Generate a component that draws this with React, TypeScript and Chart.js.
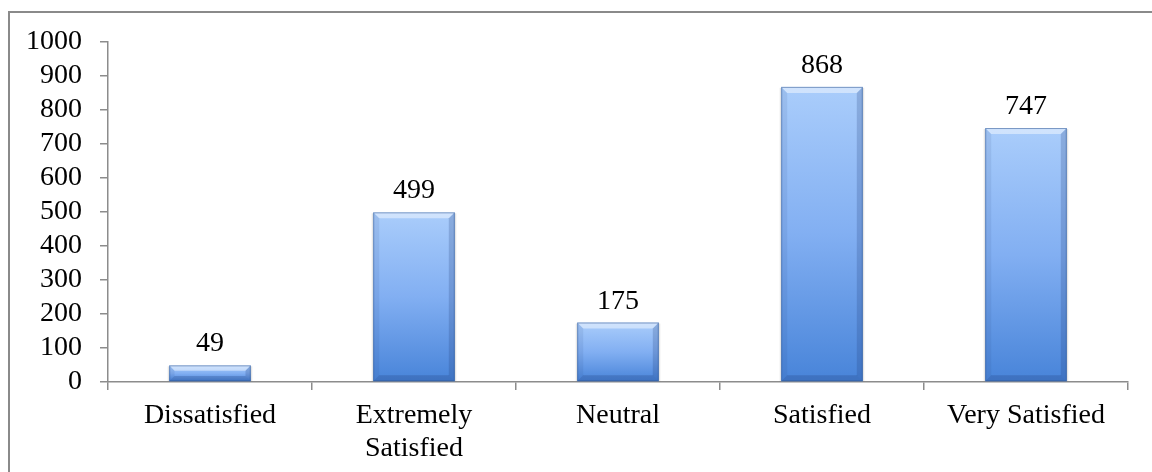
import React, { useEffect, useRef } from "react";
import { Chart, registerables } from "chart.js";

Chart.register(...registerables);

const categories: (string | string[])[] = [
  "Dissatisfied",
  ["Extremely", "Satisfied"],
  "Neutral",
  "Satisfied",
  "Very Satisfied",
];
const counts: number[] = [49, 499, 175, 868, 747];
const yMin = 0;
const yMax = 1000;
const yStep = 100;

const FONT = "'Liberation Serif', 'Times New Roman', serif";
const FONT_SIZE = 28;
const AXIS = "#8c8c8c";

const framePlugin = {
  id: "frame",
  beforeDraw(chart: any) {
    const ctx = chart.ctx;
    ctx.save();
    ctx.fillStyle = "#ffffff";
    ctx.fillRect(0, 0, chart.width, chart.height);
    ctx.strokeStyle = "#8a8a8a";
    ctx.lineWidth = 2;
    ctx.strokeRect(9, 12, chart.width + 20, chart.height + 20);
    ctx.restore();
  },
};

const bevelBarsPlugin = {
  id: "bevelBars",
  afterDatasetsDraw(chart: any) {
    const ctx = chart.ctx;
    const meta = chart.getDatasetMeta(0);
    const ds = chart.data.datasets[0];
    meta.data.forEach((bar: any, i: number) => {
      const x0 = bar.x - bar.width / 2;
      const x1 = bar.x + bar.width / 2;
      const y0 = bar.y;
      const y1 = bar.base;
      const h = y1 - y0;
      const b = Math.min(6, h / 3);
      ctx.save();
      ctx.fillStyle = "rgba(0,0,0,0.10)";
      ctx.fillRect(x0 - 1.5, y0 + 1, 1.5, h - 1);
      ctx.fillRect(x1, y0 + 1, 1.5, h - 1);
      const g = ctx.createLinearGradient(0, y0, 0, y1);
      g.addColorStop(0, "#aacdfb");
      g.addColorStop(0.5, "#82aff2");
      g.addColorStop(1, "#4884d9");
      ctx.fillStyle = g;
      ctx.fillRect(x0, y0, x1 - x0, h);
      ctx.beginPath();
      ctx.moveTo(x0, y0);
      ctx.lineTo(x1, y0);
      ctx.lineTo(x1 - b, y0 + b);
      ctx.lineTo(x0 + b, y0 + b);
      ctx.closePath();
      ctx.fillStyle = "rgba(255,255,255,0.45)";
      ctx.fill();
      ctx.beginPath();
      ctx.moveTo(x0, y0);
      ctx.lineTo(x0 + b, y0 + b);
      ctx.lineTo(x0 + b, y1 - b);
      ctx.lineTo(x0, y1);
      ctx.closePath();
      ctx.fillStyle = "rgba(40,70,130,0.10)";
      ctx.fill();
      ctx.beginPath();
      ctx.moveTo(x1, y0);
      ctx.lineTo(x1 - b, y0 + b);
      ctx.lineTo(x1 - b, y1 - b);
      ctx.lineTo(x1, y1);
      ctx.closePath();
      ctx.fillStyle = "rgba(30,60,120,0.22)";
      ctx.fill();
      ctx.beginPath();
      ctx.moveTo(x0, y1);
      ctx.lineTo(x0 + b, y1 - b);
      ctx.lineTo(x1 - b, y1 - b);
      ctx.lineTo(x1, y1);
      ctx.closePath();
      ctx.fillStyle = "rgba(30,60,120,0.25)";
      ctx.fill();
      ctx.strokeStyle = "rgba(50,90,150,0.55)";
      ctx.lineWidth = 1;
      ctx.strokeRect(x0 + 0.5, y0 + 0.5, x1 - x0 - 1, h - 1);
      ctx.fillStyle = "#000";
      ctx.font = `${FONT_SIZE}px ${FONT}`;
      ctx.textAlign = "center";
      ctx.textBaseline = "alphabetic";
      ctx.fillText(String(ds.data[i]), bar.x, y0 - 14);
      ctx.restore();
    });
  },
};

export default function App() {
  const canvasRef = useRef<HTMLCanvasElement | null>(null);

  useEffect(() => {
    if (!canvasRef.current) return;
    const chart = new Chart(canvasRef.current, {
      type: "bar",
      data: {
        labels: categories,
        datasets: [
          {
            data: counts,
            backgroundColor: "rgba(0,0,0,0)",
            borderWidth: 0,
            barPercentage: 0.4,
            categoryPercentage: 1,
          },
        ],
      },
      options: {
        responsive: true,
        maintainAspectRatio: false,
        animation: false,
        layout: { padding: { left: 0, right: 24, top: 42, bottom: 0 } },
        plugins: {
          legend: { display: false },
          tooltip: { enabled: false },
          title: { display: false },
        },
        scales: {
          x: {
            offset: true,
            grid: {
              offset: true,
              drawOnChartArea: false,
              drawTicks: true,
              tickLength: 8,
              color: AXIS,
              lineWidth: 1.5,
            },
            border: { color: AXIS, width: 1.5 },
            ticks: {
              color: "#000",
              font: { family: FONT, size: FONT_SIZE, lineHeight: 1.15 },
              padding: 10,
              maxRotation: 0,
              autoSkip: false,
            },
            afterFit(scale: any) {
              scale.height = 90;
            },
          },
          y: {
            min: yMin,
            max: yMax,
            grid: {
              drawOnChartArea: false,
              drawTicks: true,
              tickLength: 8,
              color: AXIS,
              lineWidth: 1.5,
            },
            border: { color: AXIS, width: 1.5 },
            ticks: {
              stepSize: yStep,
              autoSkip: false,
              color: "#000",
              font: { family: FONT, size: FONT_SIZE },
              padding: 18,
              callback: (v: any) => String(v),
            },
            afterFit(scale: any) {
              scale.width = 108;
            },
          },
        },
      },
      plugins: [framePlugin, bevelBarsPlugin],
    });
    return () => chart.destroy();
  }, []);

  return (
    <div style={{ position: "fixed", left: 0, top: 0, width: 1152, height: 472 }}>
      <canvas ref={canvasRef} />
    </div>
  );
}
